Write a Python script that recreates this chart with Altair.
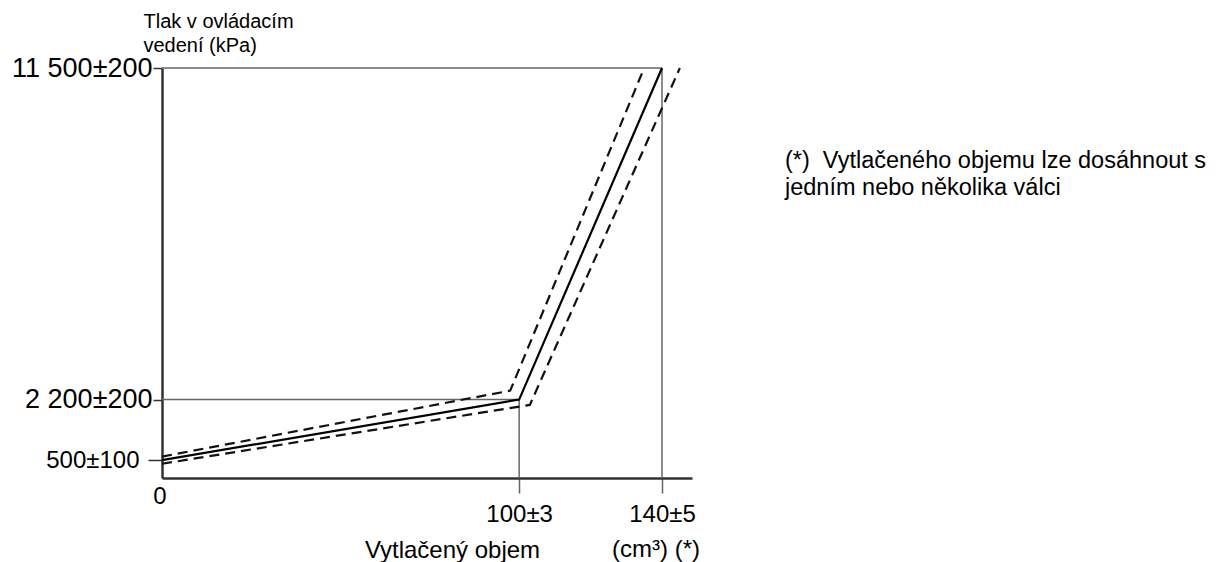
import altair as alt
import pandas as pd

# ---- data ----
solid_x = [0, 100, 140]
solid_y = [500, 2200, 11500]
upper_x = [0, 97.5, 135]
upper_y = [600, 2450, 11500]
lower_x = [0, 103, 145]
lower_y = [400, 2050, 11500]

ref_x = [100, 140]
ref_y = [2200, 11500]

y_ticks = [500, 2200, 11500]
y_tick_labels = ["500±100", "2 200±200", "11 500±200"]
x_ticks = [100, 140]
x_tick_labels = ["100±3", "140±5"]

y_title = ["Tlak v ovládacím", "vedení (kPa)"]
x_title = "Vytlačený objem"
x_unit = "(cm³) (*)"
origin_label = "0"
footnote = "(*)\u00a0\u00a0Vytlačeného objemu lze dosáhnout s\njedním nebo několika válci"

FONT = "Liberation Sans"
W, H = 530, 410


def label_expr(values, labels):
    expr = "''"
    for v, l in reversed(list(zip(values, labels))):
        expr = f"datum.value == {v} ? '{l}' : ({expr})"
    return expr


xs = alt.Scale(domain=[0, 148.4], nice=False, zero=False)
ys = alt.Scale(domain=[0, 11500], nice=False, zero=False)

solid_df = pd.DataFrame({"x": solid_x, "y": solid_y})
dash_df = pd.concat([
    pd.DataFrame({"x": upper_x, "y": upper_y, "s": "upper"}),
    pd.DataFrame({"x": lower_x, "y": lower_y, "s": "lower"}),
])
href_df = pd.DataFrame({"x": [0, 0], "x2": ref_x, "y": ref_y})
vref_df = pd.DataFrame({"x": ref_x, "y": [0, 0], "y2": ref_y})

x_axis = alt.Axis(
    values=x_ticks,
    labelExpr=label_expr(x_ticks, x_tick_labels),
    labelFont=FONT, labelFontSize=24, labelColor="#000", labelPadding=9,
    labelFlush=False, labelOverlap=False,
    tickSize=15, tickColor="#666", tickWidth=1.5,
    domainColor="#333", domainWidth=2.5,
    grid=False,
    title=x_title, titleFont=FONT, titleFontSize=24, titleFontWeight="normal",
    titleColor="#000", titleX=290, titleY=79, titleBaseline="alphabetic",
    titleAlign="center",
)
y_axis = alt.Axis(
    values=y_ticks,
    labelExpr=label_expr(y_ticks, y_tick_labels),
    labelFont=FONT,
    labelFontSize={"condition": {"test": "datum.value == 500", "value": 24}, "value": 27},
    labelPadding={"condition": {"test": "datum.value == 500", "value": 9}, "value": 1},
    tickSize={"condition": {"test": "datum.value == 500", "value": 14}, "value": 9},
    labelColor="#000", labelBaseline="middle", labelOverlap=False, labelFlush=False,
    tickColor="#333", tickWidth=1.5,
    domainColor="#333", domainWidth=2.5,
    grid=False,
    title=y_title, titleFont=FONT, titleFontSize=20, titleFontWeight="normal",
    titleColor="#000", titleAngle=0, titleAlign="left", titleBaseline="alphabetic",
    titleX=-19, titleY=-41, titleLineHeight=24,
)

X = alt.X("x:Q", scale=xs, axis=x_axis)
Y = alt.Y("y:Q", scale=ys, axis=y_axis)

hrefs = alt.Chart(href_df).mark_rule(color="#666", strokeWidth=1.5).encode(
    x=X, x2="x2:Q", y=Y,
)
vrefs = alt.Chart(vref_df).mark_rule(color="#666", strokeWidth=1.5).encode(
    x=X, y=Y, y2="y2:Q",
)
dashed = alt.Chart(dash_df).mark_line(color="#111", strokeWidth=2.2, strokeDash=[10, 6]).encode(
    x=X, y=Y, detail="s:N",
)
solid = alt.Chart(solid_df).mark_line(color="#000", strokeWidth=2.2).encode(
    x=X, y=Y,
)

one = pd.DataFrame({"x": [0], "y": [0]})
zero_lbl = alt.Chart(one).mark_text(
    font=FONT, fontSize=24, color="#000", baseline="top", align="center", dy=7, dx=-2
).encode(
    x=X, y=Y, text=alt.value(origin_label),
)
unit_df = pd.DataFrame({"x": [x_ticks[-1]]})
unit_lbl = alt.Chart(unit_df).mark_text(
    font=FONT, fontSize=24, color="#000", baseline="alphabetic", align="center", dx=-6
).encode(
    x=X, y=alt.value(489), text=alt.value(x_unit),
)
note = alt.Chart(one).mark_text(
    font=FONT, fontSize=23.5, color="#000", baseline="alphabetic", align="left",
    lineBreak="\n", lineHeight=27,
).encode(
    x=alt.value(623),
    y=alt.value(100),
    text=alt.value(footnote),
)

chart = alt.layer(hrefs, vrefs, dashed, solid, zero_lbl, unit_lbl, note).properties(
    width=W, height=H,
    autosize=alt.AutoSizeParams(type="none"),
    padding={"left": 154, "top": 60, "right": 520, "bottom": 84},
    background="white",
).configure_view(stroke=None)

chart.save("out.html", embed_options={"renderer": "svg", "actions": False})
